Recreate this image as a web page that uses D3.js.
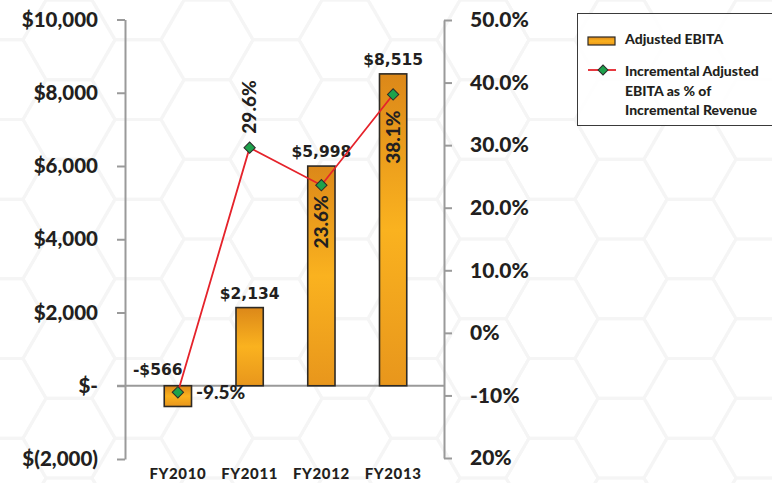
<!DOCTYPE html>
<html>
<head>
<meta charset="utf-8">
<script src="https://cdn.jsdelivr.net/npm/d3@7"></script>
<style>
  html, body { margin: 0; padding: 0; background: #ffffff; }
  svg { display: block; }
</style>
</head>
<body>
<svg id="chart" width="772" height="483"></svg>
<script>
// ---------- data ----------
const categories = ["FY2010", "FY2011", "FY2012", "FY2013"];
const ebita = [-566, 2134, 5998, 8515];
const ebitaLabels = ["-$566", "$2,134", "$5,998", "$8,515"];
const incPct = [-9.5, 29.6, 23.6, 38.1];
const pctLabels = ["-9.5%", "29.6%", "23.6%", "38.1%"];
const leftTicks = [-2000, 0, 2000, 4000, 6000, 8000, 10000];
const leftTickLabels = ["$(2,000)", "$-", "$2,000", "$4,000", "$6,000", "$8,000", "$10,000"];
const rightTicks = [-20, -10, 0, 10, 20, 30, 40, 50];
const rightTickLabels = ["20%", "-10%", "0%", "10.0%", "20.0%", "30.0%", "40.0%", "50.0%"];
const legendItems = ["Adjusted EBITA", ["Incremental Adjusted", "EBITA as % of", "Incremental Revenue"]];

// ---------- setup ----------
const svg = d3.select("#chart");
const textColor = "#231f20";
const axisColor = "#9a9a9a";
const axisFont = "Lato, 'Noto Sans', sans-serif";
const valueFont = "'DejaVu Sans', Verdana, sans-serif";

const defs = svg.append("defs");
const grad = defs.append("linearGradient")
  .attr("id", "barGrad").attr("x1", 0).attr("y1", 0).attr("x2", 0).attr("y2", 1);
grad.append("stop").attr("offset", "0%").attr("stop-color", "#dc8819");
grad.append("stop").attr("offset", "50%").attr("stop-color", "#fab21f");
grad.append("stop").attr("offset", "100%").attr("stop-color", "#e8961c");

// faint hexagon background
const bg = svg.append("g").attr("class", "bg");
const hr = 46;
const hexPath = (cx, cy) => {
  const pts = d3.range(6).map(k => {
    const a = Math.PI / 180 * (60 * k);
    return [cx + hr * Math.cos(a), cy + hr * Math.sin(a)];
  });
  return "M" + pts.map(p => p.join(",")).join("L") + "Z";
};
for (let col = -1; col < 12; col++) {
  for (let row = -1; row < 7; row++) {
    const cx = col * hr * 1.5;
    const cy = row * hr * Math.sqrt(3) + (col % 2 ? hr * Math.sqrt(3) / 2 : 0);
    bg.append("path").attr("d", hexPath(cx, cy))
      .attr("fill", "none").attr("stroke", "#f5f5f5").attr("stroke-width", 3);
  }
}

// ---------- scales ----------
const x = d3.scaleBand().domain(categories).range([142, 429]).paddingInner(0.62).paddingOuter(0.31);
const y = d3.scaleLinear().domain([-2000, 10000]).range([459, 19.5]);
const y2 = d3.scaleLinear().domain([-20, 50]).range([458, 20]);
const leftX = 125, rightX = 444;

// ---------- axes ----------
const gL = svg.append("g").attr("transform", `translate(${leftX},0)`)
  .call(d3.axisLeft(y).tickValues(leftTicks).tickFormat((d, i) => leftTickLabels[i])
    .tickSize(8).tickSizeOuter(0).tickPadding(19));
gL.select(".domain").attr("stroke", axisColor).attr("stroke-width", 2);
gL.selectAll(".tick line").attr("stroke", axisColor).attr("stroke-width", 2);
gL.selectAll(".tick text").attr("fill", textColor)
  .style("font-family", axisFont).style("font-weight", "900").style("font-size", "20.5px");

const gR = svg.append("g").attr("transform", `translate(${rightX},0)`)
  .call(d3.axisRight(y2).tickValues(rightTicks).tickFormat((d, i) => rightTickLabels[i])
    .tickSize(8).tickSizeOuter(0).tickPadding(18));
gR.select(".domain").attr("stroke", axisColor).attr("stroke-width", 2);
gR.selectAll(".tick line").attr("stroke", axisColor).attr("stroke-width", 2);
gR.selectAll(".tick text").attr("fill", textColor)
  .style("font-family", axisFont).style("font-weight", "900").style("font-size", "21px");

// baseline at zero
svg.append("line")
  .attr("x1", leftX - 8).attr("x2", rightX)
  .attr("y1", y(0)).attr("y2", y(0))
  .attr("stroke", axisColor).attr("stroke-width", 2);

// category axis
const gB = svg.append("g").attr("transform", `translate(0,${y(-2000) + 9})`)
  .call(d3.axisBottom(x).tickSize(0).tickPadding(0));
gB.select(".domain").remove();
gB.selectAll(".tick text").attr("fill", textColor).attr("dy", "0.71em")
  .style("font-family", axisFont).style("font-weight", "900").style("font-size", "15px")
  .style("letter-spacing", "0.6px");

// ---------- bars ----------
svg.append("g").selectAll("rect").data(ebita).join("rect")
  .attr("x", (d, i) => x(categories[i]))
  .attr("width", x.bandwidth())
  .attr("y", d => Math.min(y(d), y(0)))
  .attr("height", d => Math.abs(y(d) - y(0)))
  .attr("fill", "url(#barGrad)")
  .attr("stroke", "#2e2a25").attr("stroke-width", 1.6);

// bar value labels
svg.append("g").selectAll("text").data(ebita).join("text")
  .attr("x", (d, i) => d < 0 ? x(categories[i]) + x.bandwidth() - 9 : x(categories[i]) + x.bandwidth() / 2)
  .attr("y", d => d < 0 ? y(0) - 11 : y(d) - 9)
  .attr("text-anchor", d => d < 0 ? "end" : "middle")
  .attr("fill", textColor)
  .style("font-family", valueFont).style("font-weight", "700").style("font-size", "15.5px")
  .text((d, i) => ebitaLabels[i]);

// ---------- line ----------
const pts = incPct.map((v, i) => [x(categories[i]) + x.bandwidth() / 2, y2(v)]);
svg.append("path").datum(pts)
  .attr("d", d3.line())
  .attr("fill", "none").attr("stroke", "#e5232b").attr("stroke-width", 1.8);

svg.append("g").selectAll("path").data(pts).join("path")
  .attr("transform", d => `translate(${d[0]},${d[1]}) rotate(45)`)
  .attr("d", d3.symbol(d3.symbolSquare, 64))
  .attr("fill", "#1ea24c").attr("stroke", "#2b2b2b").attr("stroke-width", 1);

// percentage labels
const pctG = svg.append("g").attr("fill", textColor)
  .style("font-family", axisFont).style("font-weight", "900").style("font-size", "19px");
pts.forEach((p, i) => {
  const t = pctG.append("text").text(pctLabels[i]);
  if (i === 0) {
    t.attr("x", p[0] + 18).attr("y", p[1] + 7);
  } else if (i === 1) {
    t.attr("transform", `translate(${p[0] + 6},${p[1] - 14}) rotate(-90)`);
  } else {
    t.attr("text-anchor", "end")
      .attr("transform", `translate(${p[0] + 7},${p[1] + (i === 2 ? 10 : 16)}) rotate(-90)`);
  }
});

// ---------- legend ----------
const lg = svg.append("g");
lg.append("rect").attr("x", 577.5).attr("y", 13.5).attr("width", 220).attr("height", 112)
  .attr("fill", "#ffffff").attr("fill-opacity", 0.85)
  .attr("stroke", "#3a3a3a").attr("stroke-width", 1);
lg.append("rect").attr("x", 588).attr("y", 37).attr("width", 27).attr("height", 8)
  .attr("fill", "url(#barGrad)").attr("stroke", "#2e2a25").attr("stroke-width", 1.2);
lg.append("text").attr("x", 625).attr("y", 44).text(legendItems[0])
  .attr("fill", textColor)
  .style("font-family", axisFont).style("font-weight", "900").style("font-size", "14px");
lg.append("line").attr("x1", 588).attr("x2", 616).attr("y1", 70).attr("y2", 70)
  .attr("stroke", "#e5232b").attr("stroke-width", 1.8);
lg.append("path").attr("transform", "translate(603,70) rotate(45)")
  .attr("d", d3.symbol(d3.symbolSquare, 49))
  .attr("fill", "#1ea24c").attr("stroke", "#2b2b2b").attr("stroke-width", 1);
const lt = lg.append("text").attr("fill", textColor)
  .style("font-family", axisFont).style("font-weight", "900").style("font-size", "14px");
legendItems[1].forEach((s, i) => {
  lt.append("tspan").attr("x", 625).attr("y", 76 + i * 19.5).text(s);
});
</script>
</body>
</html>
